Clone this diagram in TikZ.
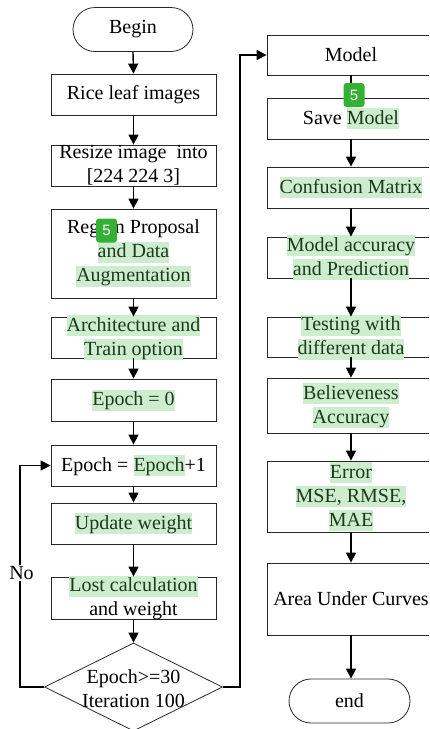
\documentclass[tikz,border=0pt]{standalone}
\usepackage{fontspec}
\setmainfont{Liberation Serif}
\newfontfamily\badgefont{Liberation Sans}
\usetikzlibrary{arrows.meta,shapes.geometric}
\definecolor{hlgreen}{RGB}{206,236,206}
\definecolor{hltext}{RGB}{28,58,28}
\definecolor{badgegreen}{RGB}{52,176,52}
\definecolor{edge}{RGB}{40,40,40}
% highlighted text run
\newcommand\hlg[1]{{\setlength{\fboxsep}{0pt}\colorbox{hlgreen}{\rule[-5pt]{0pt}{21pt}\color{hltext}#1}}}
\begin{document}
\begin{tikzpicture}[x=1pt, y=-1pt,
  font=\fontsize{20}{24}\selectfont,
  box/.style={draw=edge, line width=0.8pt, inner xsep=2pt, inner ysep=-4pt, align=center, minimum height=41pt},
  lbox/.style={box, minimum width=165pt},
  rbox/.style={box, minimum width=168pt},
  term/.style={draw=edge, line width=0.8pt, rounded corners=22pt, minimum width=120pt, minimum height=44pt},
  cond/.style={diamond, draw=edge, line width=0.8pt, minimum width=178pt, minimum height=88pt, inner sep=0pt},
  arr/.style={line width=1.4pt, -{Triangle[length=10pt,width=10pt]}},
  badgebox/.style={fill=badgegreen, rounded corners=3pt, text=white, font=\badgefont\fontsize{15}{15}\selectfont, minimum width=21pt, minimum height=24pt, inner sep=0pt}
]
\clip (0,0) rectangle (429,729);

% left column
\node[term] (begin) at (133,29.5) {Begin};
\node[lbox] (rice) at (133.5,94.5) {Rice leaf images};
\node[lbox] (resize) at (133.5,165.5) {Resize image\ \ into\\ {[}224 224 3{]}};
\node[lbox, minimum height=89pt] (region) at (133.5,253.5) {Region Proposal\\ \hlg{and Data}\\ \hlg{Augmentation}};
\node[lbox] (arch) at (133.5,337.5) {\hlg{Architecture and}\\ \hlg{Train option}};
\node[lbox, minimum height=42pt] (ep0) at (133.5,400) {\hlg{Epoch = 0}};
\node[lbox] (ep1) at (133.5,465.5) {Epoch = \hlg{Epoch}+1};
\node[lbox] (upd) at (133.5,523.5) {\hlg{Update weight}};
\node[lbox, minimum height=42pt] (lost) at (133.5,598) {\hlg{Lost calculation}\\ and weight};
\node[cond] (dia) at (133.5,687) {};
\node[align=center, inner sep=0pt] (diatext) at (133.5,689) {Epoch>=30\\ Iteration 100};

% right column
\node[rbox, minimum height=40pt] (model) at (351,55) {Model};
\node[rbox] (save) at (351,118.5) {Save \hlg{Model}};
\node[rbox] (conf) at (351,187.5) {\hlg{Confusion Matrix}};
\node[rbox] (acc) at (351,257.5) {\hlg{Model accuracy}\\ \hlg{and Prediction}};
\node[rbox, minimum height=40pt] (test) at (351,337) {\hlg{Testing with}\\ \hlg{different data}};
\node[rbox, minimum height=55pt] (bel) at (351,405.5) {\hlg{Believeness}\\ \hlg{Accuracy}};
\node[rbox, minimum height=71pt] (err) at (351,496.5) {\hlg{Error}\\ \hlg{MSE, RMSE,}\\ \hlg{MAE}};
\node[rbox, minimum height=72pt] (auc) at (351,599) {Area Under Curves};
\node[term, minimum width=121pt] (end) at (349.5,701) {end};

% flow arrows
\foreach \a/\b in {begin/rice, rice/resize, resize/region, region/arch, arch/ep0, ep0/ep1, ep1/upd, upd/lost, lost/dia,
                   model/save, save/conf, conf/acc, acc/test, test/bel, bel/err, err/auc}
  \draw[arr] (\a.south) -- (\b.north);
\draw[arr] (auc.south) -- (auc.south |- end.north);

% loop back and exit
\draw[arr] (dia.west) -- ++(-24,0) |- (ep1.west);
\node[fill=white, inner sep=1pt] (no) at (21.5,573) {No};
\draw[arr] (dia.east) -- ++(17,0) |- (model.west);

% annotation badges
\node[badgebox] (b1) at (106.5,230.5) {5};
\node[badgebox] (b2) at (354,95) {5};
\end{tikzpicture}
\end{document}
